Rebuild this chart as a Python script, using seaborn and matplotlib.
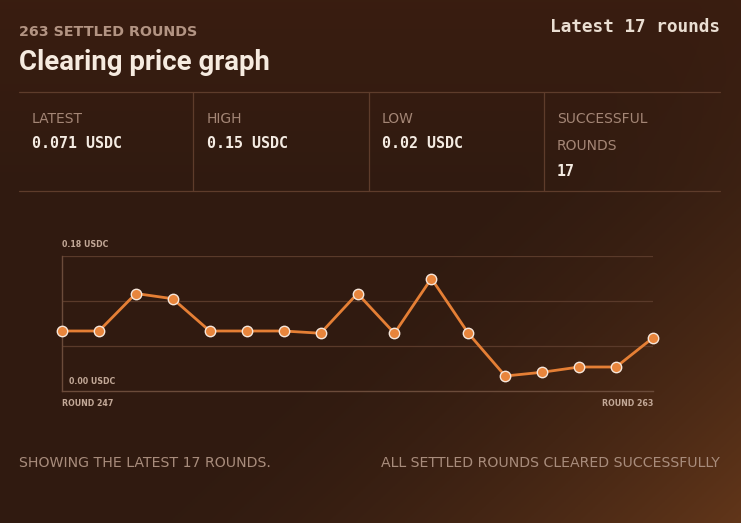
import numpy as np
import pandas as pd
import matplotlib
matplotlib.use("Agg")
import matplotlib.pyplot as plt
import seaborn as sns

# === data ===
rounds = list(range(247, 264))
prices = [0.080, 0.080, 0.130, 0.123, 0.080, 0.080, 0.080, 0.077, 0.130,
          0.077, 0.150, 0.077, 0.020, 0.025, 0.032, 0.032, 0.071]
stat_labels = ["LATEST", "HIGH", "LOW", "SUCCESSFUL\nROUNDS"]
stat_values = ["0.071 USDC", "0.15 USDC", "0.02 USDC", "17"]
y_ticks = [0.06, 0.12, 0.18]

df = pd.DataFrame({"round": rounds, "price": prices})

sns.set_theme(style="dark")
plt.rcParams["font.family"] = ["DejaVu Sans"]

W, H = 741, 523
fig = plt.figure(figsize=(W / 100, H / 100), dpi=100)

# === background gradient ===
bg = fig.add_axes([0, 0, 1, 1], zorder=-10)
yy, xx = np.mgrid[0:1:200j, 0:1:300j]
base = np.array([0.19, 0.105, 0.065])
warm = np.array([0.38, 0.21, 0.10])
t = np.clip((xx * 0.8 + yy * 0.6 - 0.75) / 0.65, 0, 1) ** 1.6
top = np.clip(0.35 - yy, 0, 1)
img = base[None, None, :] * (1 - t[..., None]) + warm[None, None, :] * t[..., None]
img = img + top[..., None] * np.array([0.10, 0.025, 0.0])
bg.imshow(np.clip(img, 0, 1), extent=[0, 1, 0, 1], aspect="auto", origin="upper")
bg.set_axis_off()

def fx(px):
    return px / W

def fy(py):
    return 1 - py / H

# === header ===
fig.text(fx(19), fy(32), "263 SETTLED ROUNDS", color="#b39483", fontsize=10.3,
         fontweight="bold", va="center", ha="left")
fig.text(fx(19), fy(63), "Clearing price graph", color="#f6ebe0", fontsize=19.8,
         fontweight="bold", va="center", ha="left", family="Roboto")
fig.text(fx(720), fy(27), "Latest 17 rounds", color="#eaded2", fontsize=12.8,
         fontweight="bold", va="center", ha="right", family="DejaVu Sans Mono")

# stat row lines
line_c = "#5e3c2b"
fig.add_artist(plt.Line2D([fx(19), fx(720)], [fy(92), fy(92)], color=line_c, lw=0.9))
fig.add_artist(plt.Line2D([fx(19), fx(720)], [fy(191), fy(191)], color=line_c, lw=0.9))
for vx in [193, 369, 544]:
    fig.add_artist(plt.Line2D([fx(vx), fx(vx)], [fy(92), fy(191)], color=line_c, lw=0.9))

col_x = [32, 207, 382, 557]
lab_kw = dict(color="#a48676", fontsize=10, va="center")
val_kw = dict(color="#f4ebe2", fontsize=10.8, va="center", fontweight="bold",
              family="DejaVu Sans Mono")
for x, lab, val in zip(col_x, stat_labels, stat_values):
    if "\n" in lab:
        l1, l2 = lab.split("\n")
        fig.text(fx(x), fy(119), l1, **lab_kw)
        fig.text(fx(x), fy(146), l2, **lab_kw)
        fig.text(fx(x), fy(171), val, **val_kw)
    else:
        fig.text(fx(x), fy(119), lab, **lab_kw)
        fig.text(fx(x), fy(144), val, **val_kw)

# === chart ===
ax = fig.add_axes([fx(62), fy(391), fx(653) - fx(62), (391 - 256) / H])
ax.set_facecolor("none")
sns.lineplot(data=df, x="round", y="price", ax=ax, color="#e57f35", lw=2,
             marker="o", markersize=7.5, markerfacecolor="#e8853c",
             markeredgecolor="#f6e6da", markeredgewidth=1.0, clip_on=False, zorder=5)
ax.set_xlim(rounds[0], rounds[-1])
ax.set_ylim(0, 0.18)
for v in y_ticks:
    ax.axhline(v, color="#5a3a2a", lw=0.9, zorder=1)
ax.set_xticks([])
ax.set_yticks([])
ax.set_xlabel("")
ax.set_ylabel("")
ax.grid(False)
for s in ["top", "right"]:
    ax.spines[s].set_visible(False)
for s in ["left", "bottom"]:
    ax.spines[s].set_visible(True)
    ax.spines[s].set_color("#6b4b3a")
    ax.spines[s].set_linewidth(1.0)

small = dict(color="#c2a897", fontsize=5.7, fontweight="bold")
fig.text(fx(62), fy(244), "0.18 USDC", va="center", ha="left", **small)
fig.text(fx(69), fy(381), "0.00 USDC", va="center", ha="left", **small)
fig.text(fx(62), fy(404), "ROUND %d" % rounds[0], va="center", ha="left", **small)
fig.text(fx(653), fy(404), "ROUND %d" % rounds[-1], va="center", ha="right", **small)

# === footer ===
foot = dict(color="#a88c7c", fontsize=10.2, va="center")
fig.text(fx(19), fy(463), "SHOWING THE LATEST 17 ROUNDS.", ha="left", **foot)
fig.text(fx(720), fy(463), "ALL SETTLED ROUNDS CLEARED SUCCESSFULLY", ha="right", **foot)

fig.savefig("out.png", dpi=100)
